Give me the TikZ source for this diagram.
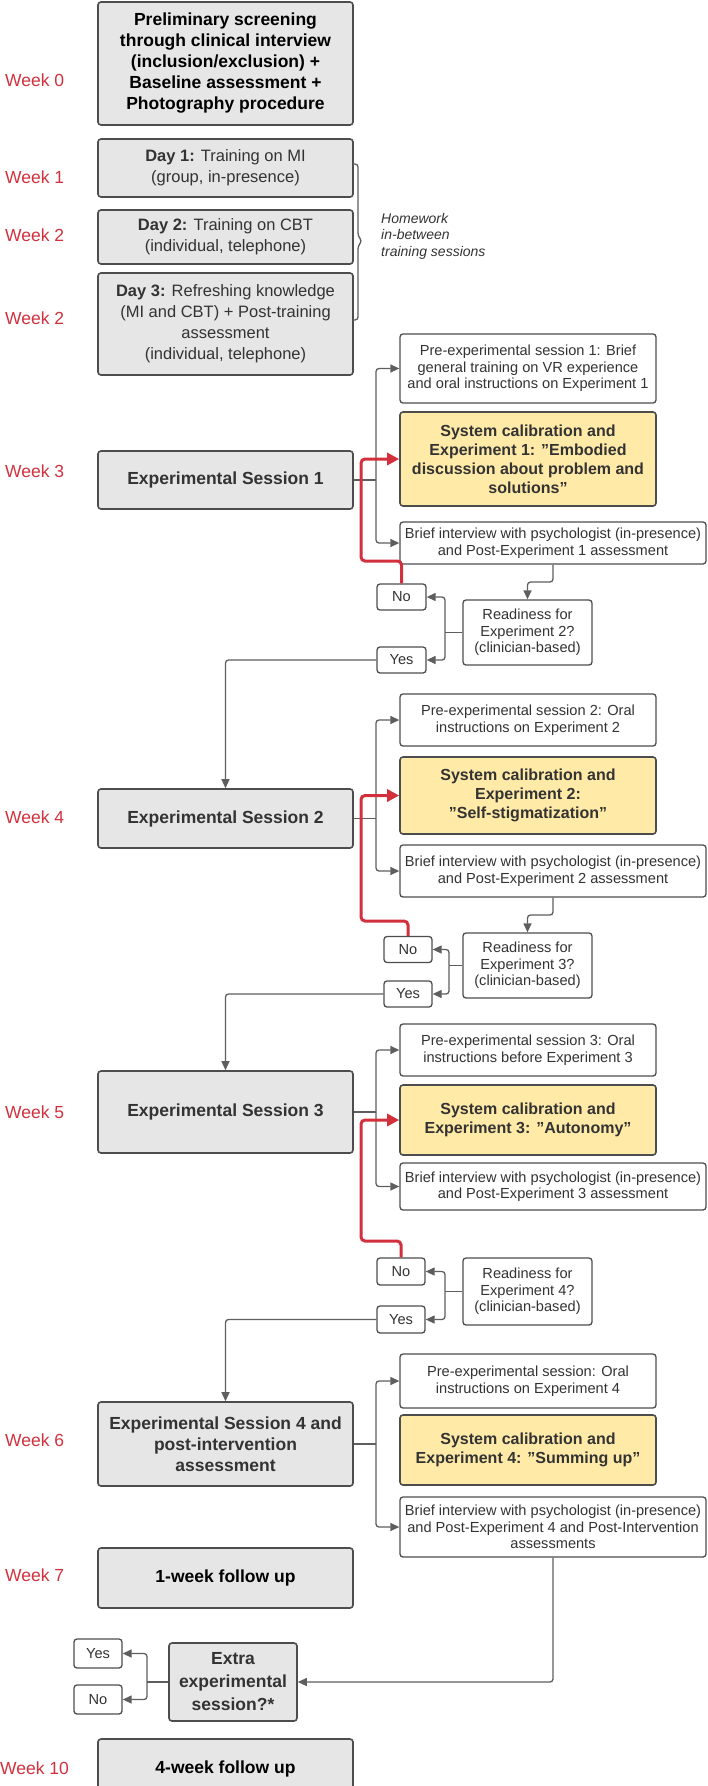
\documentclass[tikz,border=0pt]{standalone}
\usepackage{fontspec}
\defaultfontfeatures{}
\setmainfont{Liberation Sans}[Ligatures=ResetAll]
\usetikzlibrary{arrows.meta}
\definecolor{bd}{HTML}{4D4D4D}
\definecolor{gbox}{HTML}{E6E6E6}
\definecolor{ylw}{HTML}{FFEAA7}
\definecolor{tx}{HTML}{333333}
\definecolor{wk}{HTML}{D2303C}
\definecolor{ln}{HTML}{5E5E5E}
\newcommand{\qq}{"}
\begin{document}
\begin{tikzpicture}[x=1pt,y=-1pt,
  box/.style={draw=bd, line width=1.6pt, rounded corners=3pt, align=center, inner sep=0pt},
  main/.style={box, fill=gbox, text=tx, minimum width=255pt, font=\fontsize{17.5}{21}\selectfont\bfseries},
  day/.style={box, fill=gbox, text=tx, minimum width=255pt, font=\fontsize{16.5}{21}\selectfont},
  sm/.style={box, line width=1.3pt, fill=white, text=tx, font=\fontsize{14.6}{16.5}\selectfont},
  pre/.style={sm, minimum width=256pt},
  intv/.style={sm, minimum width=306pt},
  rd/.style={sm, minimum width=129pt},
  yn/.style={sm, minimum width=49pt, minimum height=26pt},
  yel/.style={box, fill=ylw, text=tx, minimum width=256pt, font=\fontsize{16}{19}\selectfont\bfseries},
  wk/.style={anchor=west, text=wk, inner sep=0pt, font=\fontsize{17.5}{20}\selectfont},
  arr/.style={draw=ln, line width=1.3pt, rounded corners=3pt, -{Triangle[width=8pt,length=9pt]}},
  ln/.style={draw=ln, line width=1.3pt, rounded corners=3pt},
  red/.style={draw=wk, line width=3pt, rounded corners=4pt, -{Triangle[width=12pt,length=12pt]}}]
\useasboundingbox (0,0) rectangle (708,1786);

% week labels
\node[wk] (w0) at (5,80) {Week 0};
\node[wk] (w1) at (5,177) {Week 1};
\node[wk] (w2) at (5,235) {Week 2};
\node[wk] (w2b) at (5,318) {Week 2};
\node[wk] (w3) at (5,471) {Week 3};
\node[wk] (w4) at (5,817) {Week 4};
\node[wk] (w5) at (5,1112) {Week 5};
\node[wk] (w6) at (5,1440) {Week 6};
\node[wk] (w7) at (5,1575) {Week 7};
\node[wk] (w10) at (0,1768) {Week 10};

% left column
\node[main, text=black, minimum height=123pt] (b0) at (225.5,63.5) {Preliminary screening\\through clinical interview\\(inclusion/exclusion) +\\Baseline assessment +\\Photography procedure};
\node[day, minimum height=58pt] (d1) at (225.5,168) {\textbf{Day 1:} Training on MI\\(group, in-presence)};
\node[day, minimum height=54pt] (d2) at (225.5,237) {\textbf{Day 2:} Training on CBT\\(individual, telephone)};
\node[day, minimum height=102pt] (d3) at (225.5,324) {\textbf{Day 3:} Refreshing knowledge\\(MI and CBT) + Post-training\\assessment\\(individual, telephone)};
\draw[ln, line width=1.3pt] (353,164) -- (358,164) -- (358,236) -- (362,241) -- (358,246) -- (358,320) -- (353,320);
\node[anchor=north west, align=left, inner sep=0pt, text=tx, font=\fontsize{14}{16.5}\selectfont\itshape] (hw) at (381,213) {Homework\\in-between\\training sessions};

\node[main, minimum height=58pt] (es1) at (225.5,480) {Experimental Session 1};
\node[main, minimum height=59pt] (es2) at (225.5,818.5) {Experimental Session 2};
\node[main, minimum height=82pt] (es3) at (225.5,1112) {Experimental Session 3};
\node[main, minimum height=84pt] (es4) at (225.5,1444) {Experimental Session 4 and\\post-intervention\\assessment};
\node[main, text=black, minimum height=60pt] (f1) at (225.5,1578) {1-week follow up};
\node[main, text=black, minimum height=59pt] (f4) at (225.5,1768.5) {4-week follow up};
\node[main, minimum width=128pt, minimum height=78pt, font=\fontsize{17.5}{23}\selectfont\bfseries] (ex) at (233,1682) {Extra\\experimental\\session?*};
\node[yn, minimum width=48pt, minimum height=29pt] (yes4) at (98,1653.5) {Yes};
\node[yn, minimum width=48pt, minimum height=29pt] (no4) at (98,1699.5) {No};

% session 1
\node[pre, minimum height=69pt] (pre1) at (528,368.5) {Pre-experimental session 1: Brief\\general training on VR experience\\and oral instructions on Experiment 1};
\node[yel, minimum height=94pt] (exp1) at (528,459) {System calibration and\\Experiment 1: \qq Embodied\\discussion about problem and\\solutions\qq};
\node[intv, minimum height=42pt] (int1) at (553,543) {Brief interview with psychologist (in-presence)\\and Post-Experiment 1 assessment};
\node[yn] (no1) at (401.5,597) {No};
\node[rd, minimum height=65pt] (r2) at (527.5,632.5) {Readiness for\\Experiment 2?\\(clinician-based)};
\node[yn] (yes1) at (401.5,660) {Yes};

% session 2
\node[pre, minimum height=52pt] (pre2) at (528,720) {Pre-experimental session 2: Oral\\instructions on Experiment 2};
\node[yel, minimum height=77pt] (exp2) at (528,795.5) {System calibration and\\Experiment 2:\\\qq Self-stigmatization\qq};
\node[intv, minimum height=52pt] (int2) at (553,871) {Brief interview with psychologist (in-presence)\\and Post-Experiment 2 assessment};
\node[yn, minimum width=48pt] (no2) at (408,949.5) {No};
\node[rd, minimum height=65pt] (r3) at (527.5,965.5) {Readiness for\\Experiment 3?\\(clinician-based)};
\node[yn, minimum width=48pt] (yes2) at (408,994) {Yes};

% session 3
\node[pre, minimum height=52pt] (pre3) at (528,1050) {Pre-experimental session 3: Oral\\instructions before Experiment 3};
\node[yel, minimum height=70pt] (exp3) at (528,1120) {System calibration and\\Experiment 3: \qq Autonomy\qq};
\node[intv, minimum height=47pt] (int3) at (553,1186.5) {Brief interview with psychologist (in-presence)\\and Post-Experiment 3 assessment};
\node[yn, minimum width=48pt, minimum height=27pt] (no3) at (401,1271.5) {No};
\node[rd, minimum height=67pt] (r4) at (527.5,1291.5) {Readiness for\\Experiment 4?\\(clinician-based)};
\node[yn, minimum width=48pt, minimum height=27pt] (yes3) at (401,1319.5) {Yes};

% session 4
\node[pre, minimum height=54pt] (pre4) at (528,1381) {Pre-experimental session: Oral\\instructions on Experiment 4};
\node[yel, minimum height=70pt] (exp4) at (528,1450) {System calibration and\\Experiment 4: \qq Summing up\qq};
\node[intv, minimum height=60pt] (int4) at (553,1527) {Brief interview with psychologist (in-presence)\\and Post-Experiment 4 and Post-Intervention\\assessments};

% branch coordinates
\coordinate (b1) at (376,480);
\coordinate (b2) at (376,818.5);
\coordinate (b3) at (376,1112);
\coordinate (b4) at (376,1444);
\coordinate (k1) at (553,582);
\coordinate (k2) at (553,915);
\coordinate (q1) at (445,632.5);
\coordinate (q2) at (449,965.5);
\coordinate (q3) at (445,1291.5);
\coordinate (q4) at (147,1682);
\coordinate (r1) at (361,561);
\coordinate (r2c) at (361,921);
\coordinate (r3c) at (361,1241);

% grey connectors
\foreach \i in {1,2,3,4} {
  \draw[ln] (es\i.east) -- (b\i);
  \draw[arr] (b\i) |- (pre\i.west);
  \draw[arr] (b\i) |- (int\i.west);
}
\draw[arr] (int1.south) -- (k1) -| (r2.north);
\draw[arr] (int2.south) -- (k2) -| (r3.north);
\draw[ln] (r2.west) -- (q1);
\draw[arr] (q1) |- (no1.east);
\draw[arr] (q1) |- (yes1.east);
\draw[ln] (r3.west) -- (q2);
\draw[arr] (q2) |- (no2.east);
\draw[arr] (q2) |- (yes2.east);
\draw[ln] (r4.west) -- (q3);
\draw[arr] (q3) |- (no3.east);
\draw[arr] (q3) |- (yes3.east);
\draw[arr] (yes1.west) -| (es2.north);
\draw[arr] (yes2.west) -| (es3.north);
\draw[arr] (yes3.west) -| (es4.north);
\draw[arr] (int4.south) |- (ex.east);
\draw[ln] (ex.west) -- (q4);
\draw[arr] (q4) |- (yes4.east);
\draw[arr] (q4) |- (no4.east);

% red loops
\draw[red] (no1.north) |- (r1) |- (exp1.west);
\draw[red] (no2.north) |- (r2c) |- (exp2.west);
\draw[red] (no3.north) |- (r3c) |- (exp3.west);
\end{tikzpicture}
\end{document}
